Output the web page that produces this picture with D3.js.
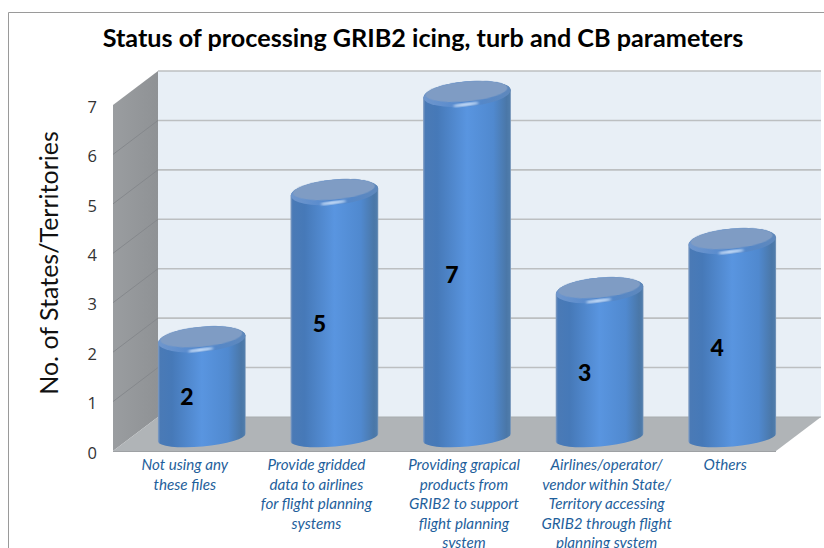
<!DOCTYPE html>
<html><head><meta charset="utf-8">
<script src="https://cdn.jsdelivr.net/npm/d3@7"></script>
<style>html,body{margin:0;padding:0;background:#fff;overflow:hidden}svg{display:block}</style>
</head><body><div id="c"></div>
<script>
const titleText = "Status of processing GRIB2 icing, turb and CB parameters";
const yTitle = "No. of States/Territories";
const categories = ["Not using any these files","Provide gridded data to airlines for flight planning systems","Providing grapical products from GRIB2 to support flight planning system","Airlines/operator/ vendor within State/ Territory accessing GRIB2 through flight planning system","Others"];
const categoryLines = [
  ["Not using any","these files"],
  ["Provide gridded","data to airlines","for flight planning","systems"],
  ["Providing grapical","products from","GRIB2 to support","flight planning","system"],
  ["Airlines/operator/","vendor within State/","Territory accessing","GRIB2 through flight","planning system"],
  ["Others"]
];
const values = [2,5,7,3,4];
const yTicks = [0,1,2,3,4,5,6,7];

// layout
const W=824,H=548;
const labelShift=[-17,-18,-3,7,-7];
const svg=d3.select("#c").append("svg").attr("width",W).attr("height",H);
const x=d3.scaleBand().domain(categories).range([135.5,798.5]).paddingInner(0.335).paddingOuter(0.1675);
const yFront=d3.scaleLinear().domain([0,7]).range([451,105]);
const yBack=d3.scaleLinear().domain([0,7]).range([417,71]);
const yBar=d3.scaleLinear().domain([0,7]).range([437.5,94]);
const xFL=113,xBL=158,xBR=821,xFR=776;

const defs=svg.append("defs");
const g=defs.append("linearGradient").attr("id","body");
[[0,"#86a0c4"],[.025,"#4a7ab6"],[.16,"#4679b8"],[.5,"#5995e0"],[.8,"#5089cf"],[.95,"#4a77a8"],[.985,"#4f7cab"],[1,"#86a0c0"]]
 .forEach(s=>g.append("stop").attr("offset",s[0]).attr("stop-color",s[1]));
const rim=defs.append("linearGradient").attr("id","rim");
[[0,"#6f96cc"],[.5,"#4f87cf"],[1,"#5f88bb"]].forEach(s=>rim.append("stop").attr("offset",s[0]).attr("stop-color",s[1]));
const wall=defs.append("linearGradient").attr("id","wall");
[[0,"#9a9da0"],[1,"#8f9295"]].forEach(s=>wall.append("stop").attr("offset",s[0]).attr("stop-color",s[1]));
defs.append("filter").attr("id","b1").append("feGaussianBlur").attr("stdDeviation",1.1);
defs.append("filter").attr("id","b2").attr("x","-30%").attr("y","-30%").attr("width","160%").attr("height","160%").append("feGaussianBlur").attr("stdDeviation",.6);

// frame
svg.append("path").attr("d",`M8.5,${H}V12.5H${W}`).attr("fill","none").attr("stroke","#9a9a9a").attr("stroke-width",1);

// walls and floor
svg.append("polygon").attr("points",[[xBL,yBack(7)],[xBR,yBack(7)],[xBR,yBack(0)],[xBL,yBack(0)]].join(" ")).attr("fill","#e8eff6");
svg.append("polygon").attr("points",[[xFL,yFront(7)],[xBL,yBack(7)],[xBL,yBack(0)],[xFL,yFront(0)]].join(" ")).attr("fill","url(#wall)");
svg.append("polygon").attr("points",[[xFL,yFront(0)],[xBL,yBack(0)],[xBR,yBack(0)],[xFR,yFront(0)]].join(" ")).attr("fill","#b0b4b7");
svg.append("g").selectAll("line.w").data(yTicks.slice(1)).join("line")
  .attr("x1",xBL).attr("x2",xBR).attr("y1",d=>yBack(d)).attr("y2",d=>yBack(d))
  .attr("stroke","#bcbfc1").attr("stroke-width",1.6);
svg.append("g").selectAll("line.s").data(yTicks.slice(1,-1)).join("line")
  .attr("x1",xFL).attr("x2",xBL).attr("y1",d=>yFront(d)).attr("y2",d=>yBack(d))
  .attr("stroke","#85888c").attr("stroke-width",1);
svg.append("line").attr("x1",xFL).attr("x2",xFR).attr("y1",yFront(0)+.5).attr("y2",yFront(0)+.5).attr("stroke","#9ea1a4").attr("stroke-width",1.2);
svg.append("line").attr("x1",xBL).attr("x2",xBR).attr("y1",yBack(0)).attr("y2",yBack(0)).attr("stroke","#a8acaf").attr("stroke-width",1);

// y axis
const axis=svg.append("g").attr("transform",`translate(97,2)`)
  .call(d3.axisLeft(yFront).tickValues(yTicks).tickSize(0).tickPadding(0).tickFormat(d3.format("d")));
axis.select(".domain").remove();
axis.selectAll("text").attr("font-family","'Open Sans', Lato, sans-serif").attr("font-size",16.5).attr("fill","#333");

// cylinders
const bw=x.bandwidth(),rx=bw/2,ry=12.5,ryBase=9,rot=-5.2,rad=rot*Math.PI/180;
const dx=rx*Math.cos(rad),dy=rx*Math.sin(rad);
const bars=svg.append("g").selectAll("g").data(categories.map((c,i)=>({c,v:values[i],i}))).join("g");
bars.append("path").attr("fill","url(#body)").attr("d",d=>{
  const cx=x(d.c)+bw/2,yt=yBar(d.v),yb=yBar(0);
  return `M${cx+dx},${yt+dy}L${cx+dx},${yb+dy}A${rx},${ryBase} ${rot} 0 1 ${cx-dx},${yb-dy}L${cx-dx},${yt-dy}A${rx},${ry} ${rot} 0 1 ${cx+dx},${yt+dy}Z`;
});
bars.append("ellipse").attr("fill","url(#rim)")
  .attr("transform",d=>`translate(${x(d.c)+bw/2},${yBar(d.v)}) rotate(${rot})`)
  .attr("rx",rx-.3).attr("ry",ry);
bars.append("ellipse").attr("fill","#7f9cc4").attr("filter","url(#b2)")
  .attr("transform",d=>`translate(${x(d.c)+bw/2-.5},${yBar(d.v)-2.6}) rotate(${rot})`)
  .attr("rx",rx-3).attr("ry",ry-2.6);
bars.append("ellipse").attr("fill","#dcecff").attr("filter","url(#b1)")
  .attr("transform",d=>`translate(${x(d.c)+bw/2-1},${yBar(d.v)+10.5}) rotate(${rot-2})`)
  .attr("rx",13).attr("ry",1.4);
bars.append("text").text(d=>d.v)
  .attr("x",d=>x(d.c)+bw/2-15).attr("y",d=>(yBar(d.v)+yBar(0))/2+17)
  .attr("text-anchor","middle").attr("font-family","Lato, sans-serif").attr("font-weight",900).attr("font-size",23).attr("fill","#000");

// category labels
categoryLines.forEach((lines,i)=>{
  svg.append("text").attr("font-family","Lato, 'Open Sans', sans-serif").attr("font-style","italic").attr("font-size",15.2).attr("fill","#1f5f9c").attr("text-anchor","middle")
   .selectAll("tspan").data(lines).join("tspan")
   .attr("x",x(categories[i])+bw/2+labelShift[i]).attr("y",(d,j)=>470+j*19.5).text(d=>d);
});

// titles
svg.append("text").text(titleText).attr("x",423).attr("y",47).attr("text-anchor","middle")
  .attr("font-family","Lato, sans-serif").attr("font-weight",700).attr("font-size",25.2).attr("fill","#000");
svg.append("text").text(yTitle).attr("transform","translate(58,263) rotate(-90)").attr("text-anchor","middle")
  .attr("font-family","Lato, 'Open Sans', sans-serif").attr("font-size",25).attr("fill","#111");
</script></body></html>
